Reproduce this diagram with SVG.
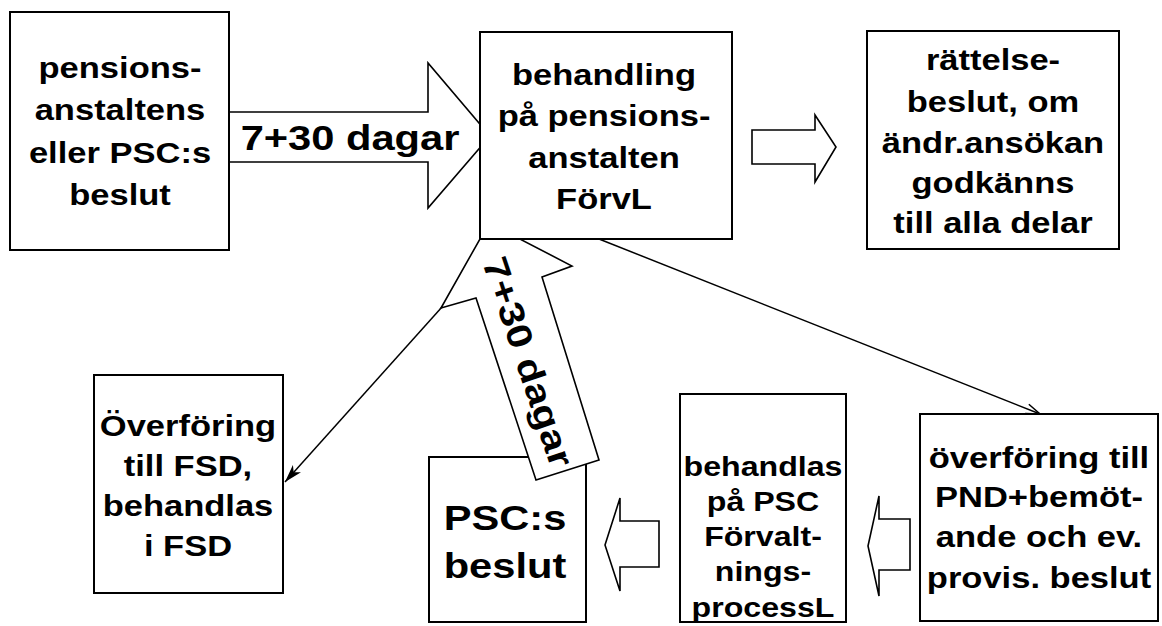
<svg xmlns="http://www.w3.org/2000/svg" width="1162" height="626" viewBox="0 0 1162 626">
<style>
.box{fill:#fff;stroke:#000;stroke-width:2}
.blk{fill:#fff;stroke:#000;stroke-width:1.6;stroke-linejoin:miter}
.ln{fill:none;stroke:#000;stroke-width:1.5}
text{font-family:"Liberation Sans",Arial,sans-serif;font-weight:bold;fill:#000;text-anchor:middle}
.t29{font-size:29px}
.t27{font-size:27px}
.t35{font-size:35px}
</style>
<defs>
<marker id="fillArrow" markerUnits="userSpaceOnUse" markerWidth="20" markerHeight="12" refX="18" refY="6" orient="auto" viewBox="0 0 20 12">
<path d="M0,0.5 L18,6 L0,11.5 L5,6 Z" fill="#000"/>
</marker>
<marker id="openArrow" markerUnits="userSpaceOnUse" markerWidth="16" markerHeight="12" refX="15" refY="6" orient="auto" viewBox="0 0 16 12">
<path d="M1,1 L15,6 L1,11" fill="none" stroke="#000" stroke-width="1.5"/>
</marker>
</defs>
<rect width="1162" height="626" fill="#fff"/>

<g id="n5">
<rect class="box" x="429" y="457" width="157" height="165"/>
<text class="t35" transform="translate(505,0) scale(1.19,1)"><tspan x="0" y="530">PSC:s</tspan><tspan x="0" y="578">beslut</tspan></text>
</g>

<g id="connectors">
<line class="ln" x1="503" y1="239" x2="285" y2="482" marker-end="url(#fillArrow)"/>
<line class="ln" x1="599" y1="239" x2="1040" y2="414" marker-end="url(#openArrow)"/>
<polygon class="blk" points="229,112 428,112 428,63 490,136 428,208 428,162 229,162"/>
<text class="t35" transform="translate(350,150) scale(1.19,1)" x="0" y="0">7+30 dagar</text>
<polygon class="blk" points="752,130 815,130 815,115 836,147 815,182 815,164 752,164"/>
<polygon class="blk" points="605,545 620,498 620,521 659,521 659,567 620,567 620,591"/>
<polygon class="blk" points="868,546 879,496 879,519 910,519 910,570 879,570 879,596"/>
<polygon class="blk" points="489,223 572,266 542,277 599,460 536,480 476,298 441,308"/>
<text class="t35" transform="translate(528,362) rotate(71.5) scale(1.19,1)" x="0" y="12">7+30 dagar</text>
</g>

<g id="n1">
<rect class="box" x="10" y="12" width="219" height="238"/>
<text class="t29" transform="translate(120,0) scale(1.19,1)"><tspan x="0" y="78">pensions-</tspan><tspan x="0" y="120">anstaltens</tspan><tspan x="0" y="163">eller PSC:s</tspan><tspan x="0" y="205">beslut</tspan></text>
</g>

<g id="n2">
<rect class="box" x="480" y="32" width="252" height="207"/>
<text class="t29" transform="translate(604,0) scale(1.19,1)"><tspan x="0" y="85">behandling</tspan><tspan x="0" y="126">på pensions-</tspan><tspan x="0" y="168">anstalten</tspan><tspan x="0" y="209">FörvL</tspan></text>
</g>

<g id="n3">
<rect class="box" x="867" y="31" width="252" height="218"/>
<text class="t29" transform="translate(993,0) scale(1.19,1)"><tspan x="0" y="70">rättelse-</tspan><tspan x="0" y="112">beslut, om</tspan><tspan x="0" y="153">ändr.ansökan</tspan><tspan x="0" y="193">godkänns</tspan><tspan x="0" y="233">till alla delar</tspan></text>
</g>

<g id="n4">
<rect class="box" x="94" y="375" width="189" height="218"/>
<text class="t29" transform="translate(188,0) scale(1.19,1)"><tspan x="0" y="436">Överföring</tspan><tspan x="0" y="476">till FSD,</tspan><tspan x="0" y="516">behandlas</tspan><tspan x="0" y="556">i FSD</tspan></text>
</g>

<g id="n6">
<rect class="box" x="680" y="394" width="166" height="228"/>
<text class="t27" transform="translate(763,0) scale(1.19,1)"><tspan x="0" y="476">behandlas</tspan><tspan x="0" y="511">på PSC</tspan><tspan x="0" y="546">Förvalt-</tspan><tspan x="0" y="581">nings-</tspan><tspan x="0" y="617">processL</tspan></text>
</g>

<g id="n7">
<rect class="box" x="920" y="414" width="238" height="207"/>
<text class="t29" transform="translate(1039,0) scale(1.19,1)"><tspan x="0" y="468">överföring till</tspan><tspan x="0" y="507">PND+bemöt-</tspan><tspan x="0" y="547">ande och ev.</tspan><tspan x="0" y="588">provis. beslut</tspan></text>
</g>
</svg>
